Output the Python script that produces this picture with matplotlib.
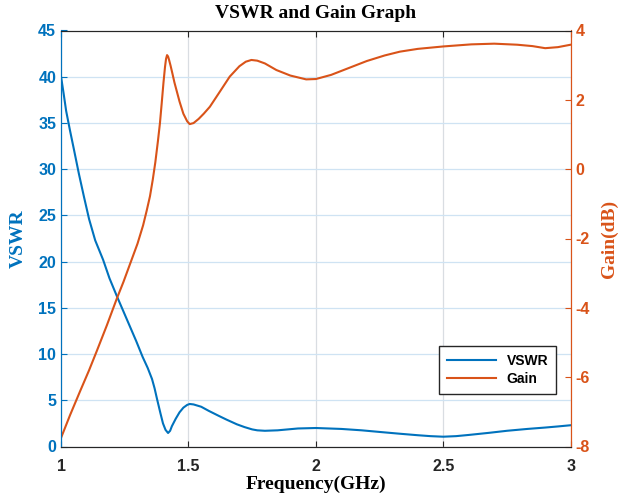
import matplotlib.pyplot as plt

plt.rcParams['axes.unicode_minus'] = False

# values
freq_vswr = [1.0, 1.01, 1.02, 1.035, 1.05, 1.07, 1.09, 1.11, 1.134, 1.165, 1.19, 1.22, 1.245,
             1.27, 1.295, 1.32, 1.34, 1.357, 1.367, 1.377, 1.39, 1.40, 1.41, 1.42, 1.428,
             1.435, 1.45, 1.465, 1.48, 1.495, 1.505, 1.52, 1.55, 1.58, 1.62, 1.65, 1.69,
             1.72, 1.75, 1.77, 1.8, 1.85, 1.93, 2.0, 2.1, 2.18, 2.26, 2.33, 2.4, 2.45,
             2.5, 2.55, 2.6, 2.68, 2.75, 2.83, 2.9, 2.95, 3.0]
vswr = [40.0, 38.2, 36.3, 34.2, 32.2, 29.5, 27.0, 24.6, 22.3, 20.2, 18.2, 16.2, 14.6,
        13.0, 11.4, 9.7, 8.5, 7.3, 6.3, 5.1, 3.6, 2.5, 1.8, 1.46, 1.7,
        2.2, 3.0, 3.7, 4.2, 4.5, 4.6, 4.55, 4.3, 3.85, 3.3, 2.9, 2.4,
        2.1, 1.85, 1.75, 1.7, 1.75, 1.95, 2.0, 1.9, 1.75, 1.55, 1.38, 1.22, 1.12,
        1.06, 1.12, 1.25, 1.48, 1.7, 1.9, 2.05, 2.17, 2.3]

freq_gain = [1.0, 1.035, 1.075, 1.11, 1.14, 1.18, 1.218, 1.245, 1.27, 1.30, 1.322, 1.336,
             1.349, 1.36, 1.37, 1.38, 1.388, 1.395, 1.402, 1.408, 1.412, 1.416, 1.42,
             1.424, 1.43, 1.437, 1.445, 1.453, 1.465, 1.48, 1.495, 1.505, 1.52, 1.54,
             1.56, 1.584, 1.62, 1.662, 1.7, 1.725, 1.747, 1.77, 1.8, 1.845, 1.9, 1.962,
             2.0, 2.06, 2.13, 2.2, 2.27, 2.33, 2.4, 2.5, 2.61, 2.7, 2.79, 2.85, 2.9,
             2.95, 3.0]
gain = [-7.75, -7.1, -6.4, -5.8, -5.25, -4.5, -3.75, -3.25, -2.75, -2.15, -1.62, -1.2,
        -0.78, -0.3, 0.2, 0.8, 1.32, 1.9, 2.5, 2.95, 3.18, 3.29, 3.25,
        3.15, 2.98, 2.76, 2.5, 2.28, 1.95, 1.6, 1.38, 1.30, 1.33, 1.45,
        1.6, 1.8, 2.2, 2.67, 2.97, 3.1, 3.15, 3.13, 3.05, 2.86, 2.7, 2.59,
        2.6, 2.72, 2.92, 3.12, 3.28, 3.39, 3.47, 3.54, 3.6, 3.62, 3.59, 3.55, 3.49,
        3.52, 3.59]

blue = '#0072BD'
orange = '#D95319'

fig = plt.figure(figsize=(6.23, 5.0), dpi=100)
ax = fig.add_axes([0.098, 0.107, 0.818, 0.832])
ax2 = ax.twinx()

l1, = ax.plot(freq_vswr, vswr, color=blue, linewidth=1.5, label='VSWR')
l2, = ax2.plot(freq_gain, gain, color=orange, linewidth=1.5, label='Gain')

ax.set_xlim(1, 3)
ax.set_ylim(0, 45)
ax2.set_ylim(-8, 4)
ax.set_xticks([1, 1.5, 2, 2.5, 3])
ax.set_xticklabels(['1', '1.5', '2', '2.5', '3'])
ax.set_yticks(range(0, 46, 5))
ax2.set_yticks(range(-8, 5, 2))

# grid: light blue horizontal, light grey vertical
ax.grid(True, axis='y', color='#cfe3f3', linewidth=0.9)
ax.grid(True, axis='x', color='#d9dde2', linewidth=0.9)

tick_font = dict(family='Liberation Sans', weight='bold', size=11.5)
ax.tick_params(axis='x', direction='in', top=True, colors='#262626', length=4, pad=9)
ax.tick_params(axis='y', direction='in', colors=blue, length=4)
ax2.tick_params(axis='y', direction='in', colors=orange, length=4)
for lab in ax.get_xticklabels() + ax.get_yticklabels() + ax2.get_yticklabels():
    lab.set_fontproperties(tick_font)

ax.spines['left'].set_color(blue)
ax2.spines['left'].set_color(blue)
ax2.spines['right'].set_color(orange)
ax.spines['right'].set_color(orange)
for a in (ax, ax2):
    a.spines['top'].set_color('#262626')
    a.spines['bottom'].set_color('#262626')

serif = dict(family='Liberation Serif', weight='bold', size=14)
ax.set_title('VSWR and Gain Graph', pad=9, **serif)
ax.set_xlabel('Frequency(GHz)', labelpad=1, **serif)
ax.set_ylabel('VSWR', color=blue, labelpad=8, **serif)
ax2.set_ylabel('Gain(dB)', color=orange, labelpad=8, **serif)

leg = ax2.legend(handles=[l1, l2], loc='lower right', bbox_to_anchor=(0.985, 0.11),
                 prop=dict(family='Liberation Sans', weight='bold', size=10),
                 fancybox=False, edgecolor='#262626', framealpha=1,
                 handlelength=3.5, borderpad=0.55, labelspacing=0.3)
leg.get_frame().set_linewidth(1.0)

fig.savefig('out.png', dpi=100)
